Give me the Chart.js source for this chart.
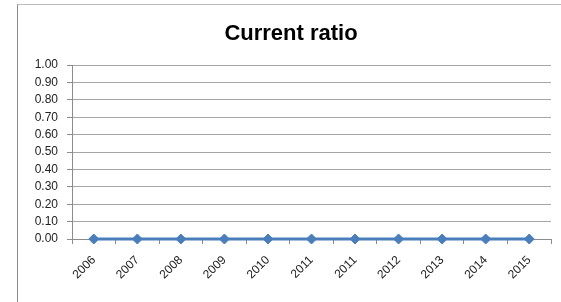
<!DOCTYPE html>
<html>
<head>
<meta charset="utf-8">
<script src="https://cdn.jsdelivr.net/npm/chart.js@4/dist/chart.umd.min.js"></script>
<style>
    html, body { margin: 0; padding: 0; background: #fff; }
    #wrap { position: relative; width: 561px; height: 302px; overflow: hidden; }
    #frame {
        position: absolute; left: 17px; top: 4px; right: -2px; bottom: -2px;
        border-top: 1px solid #bdbdbd; border-left: 1px solid #8c8c8c;
    }
    canvas { position: absolute; left: 0; top: 0; }
</style>
</head>
<body>
<div id="wrap">
    <div id="frame"></div>
    <canvas id="chart" width="561" height="302"></canvas>
</div>
<script>
"use strict";
// chart data
var chartTitle = "Current ratio";
var years = ["2006", "2007", "2008", "2009", "2010", "2011", "2011", "2012", "2013", "2014", "2015"];
var currentRatio = [0, 0, 0, 0, 0, 0, 0, 0, 0, 0, 0];
var yTicks = [0, 0.1, 0.2, 0.3, 0.4, 0.5, 0.6, 0.7, 0.8, 0.9, 1.0];

var lineColor = "#4a7ebb";
var tickFont = { family: "'Liberation Sans', Arial, sans-serif", size: 12 };

// title is centred over the framed area, not the whole canvas
var titlePlugin = {
    id: "frameTitle",
    afterDraw: function (chart) {
        var ctx = chart.ctx;
        ctx.save();
        ctx.font = "bold 22px 'Liberation Sans', Arial, sans-serif";
        ctx.fillStyle = "#000";
        ctx.textAlign = "center";
        ctx.textBaseline = "alphabetic";
        ctx.fillText(chartTitle, 291, 40);
        ctx.restore();
    }
};

new Chart(document.getElementById("chart").getContext("2d"), {
    type: "line",
    data: {
        labels: years,
        datasets: [{
            label: chartTitle,
            data: currentRatio,
            borderColor: lineColor,
            backgroundColor: lineColor,
            borderWidth: 3,
            pointStyle: "rectRot",
            pointRadius: 5,
            pointBorderWidth: 1,
            tension: 0,
            clip: false
        }]
    },
    plugins: [titlePlugin],
    options: {
        responsive: false,
        animation: false,
        layout: { padding: { left: 0, right: 10, top: 65, bottom: 0 } },
        plugins: {
            legend: { display: false },
            tooltip: { enabled: false },
            title: { display: false }
        },
        scales: {
            x: {
                offset: true,
                grid: {
                    offset: true,
                    drawOnChartArea: false,
                    drawTicks: true,
                    tickLength: 5,
                    color: "#8c8c8c"
                },
                border: { color: "#8c8c8c" },
                ticks: {
                    color: "#222",
                    font: tickFont,
                    minRotation: 45,
                    maxRotation: 45,
                    autoSkip: false,
                    padding: 9
                },
                afterFit: function (scale) { scale.height = 63; }
            },
            y: {
                min: 0,
                max: 1,
                afterBuildTicks: function (scale) {
                    scale.ticks = yTicks.map(function (v) { return { value: v }; });
                },
                grid: {
                    color: "#a6a6a6",
                    tickLength: 5,
                    tickColor: "#8c8c8c"
                },
                border: { color: "#8c8c8c" },
                ticks: {
                    color: "#222",
                    font: tickFont,
                    padding: 9,
                    callback: function (v) { return Number(v).toFixed(2); }
                },
                afterFit: function (scale) { scale.width = 72; }
            }
        }
    }
});
</script>
</body>
</html>
